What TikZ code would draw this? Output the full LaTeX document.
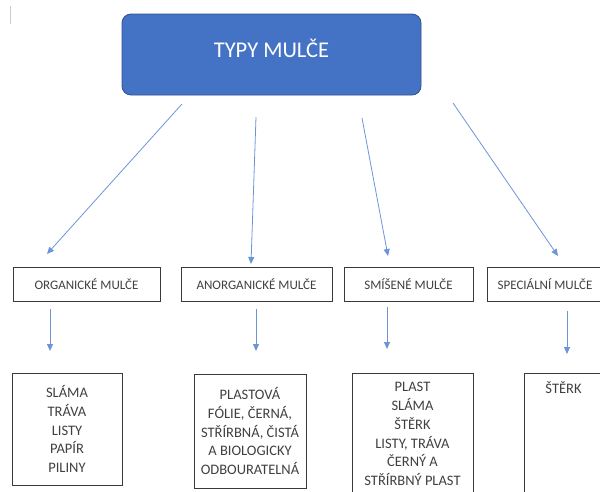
\documentclass[tikz,border=0pt]{standalone}
\usepackage{fontspec}
\setmainfont{Carlito}
\usetikzlibrary{arrows.meta}
\definecolor{mblue}{HTML}{4472C4}
\definecolor{mborder}{HTML}{2F528F}
\definecolor{marrow}{HTML}{6E94D8}
\definecolor{mtext}{HTML}{404040}

\begin{document}
\begin{tikzpicture}[x=1pt, y=-1pt,
  mainbox/.style={rectangle, rounded corners=9pt, draw=mborder, fill=mblue, line width=0.8pt, text=white, font=\fontsize{22.5}{27}\selectfont, minimum width=299pt, minimum height=81pt, text depth=13pt},
  typebox/.style={rectangle, draw=mtext!90!black, line width=0.8pt, text=mtext, font=\fontsize{13}{15}\selectfont, minimum height=34pt},
  itembox/.style={rectangle, draw=mtext!90!black, line width=0.8pt, text=mtext, font=\fontsize{14.5}{18.75}\selectfont, align=center, inner sep=0pt},
  link/.style={marrow, line width=0.8pt, -{Triangle[width=6pt,length=7pt]}, color=marrow}]
  \useasboundingbox (0,0) rectangle (600,491);
  \clip (0,0) rectangle (600,491);
  {
  \draw[black!20, line width=1pt] (10,6) -- (10,24);

  \node[mainbox] (typy) at (271.5,54.5) {TYPY MULČE};

  \node[typebox, minimum width=147pt] (org) at (86.5,284.5) {ORGANICKÉ MULČE};
  \node[typebox, minimum width=151pt] (anorg) at (256.5,284.5) {ANORGANICKÉ MULČE};
  \node[typebox, minimum width=129pt] (smis) at (408.5,284.5) {SMÍŠENÉ MULČE};
  \node[typebox, minimum width=116pt] (spec) at (545,284.5) {SPECIÁLNÍ MULČE};

  \node[itembox, minimum width=110pt, minimum height=112pt] (orgitems) at (67,429) {SLÁMA\\TRÁVA\\LISTY\\PAPÍR\\PILINY};
  \node[itembox, minimum width=112pt, minimum height=114pt] (anorgitems) at (250,431) {PLASTOVÁ\\FÓLIE, ČERNÁ,\\STŘÍRBNÁ, ČISTÁ\\A BIOLOGICKY\\ODBOURATELNÁ};
  \node[itembox, anchor=north, minimum width=121pt, inner ysep=9pt] (smisitems) at (412.5,373) {PLAST\\SLÁMA\\ŠTĚRK\\LISTY, TRÁVA\\ČERNÝ A\\STŘÍRBNÝ PLAST\\};
  \node[itembox, anchor=north, minimum width=79pt, inner ysep=8pt, text depth=110pt] (specitems) at (563.5,373) {ŠTĚRK};

  \coordinate (t1) at (182,104);
  \coordinate (t2) at (256,117);
  \coordinate (t3) at (362,118);
  \coordinate (t4) at (453,103);
  \coordinate (h1) at (47,254);
  \coordinate (h2) at (251,264);
  \coordinate (h3) at (388,256);
  \coordinate (h4) at (558,256);

  \draw[link] (t1) -- (h1);
  \draw[link] (t2) -- (h2);
  \draw[link] (t3) -- (h3);
  \draw[link] (t4) -- (h4);

  \coordinate (d1) at (50,309);  \coordinate (e1) at (50,351);
  \coordinate (d2) at (256,309); \coordinate (e2) at (256,351);
  \coordinate (d3) at (387,307); \coordinate (e3) at (387,349);
  \coordinate (d4) at (567,311); \coordinate (e4) at (567,354);

  \draw[link] (d1) -- (e1);
  \draw[link] (d2) -- (e2);
  \draw[link] (d3) -- (e3);
  \draw[link] (d4) -- (e4);
  }
\end{tikzpicture}
\end{document}
